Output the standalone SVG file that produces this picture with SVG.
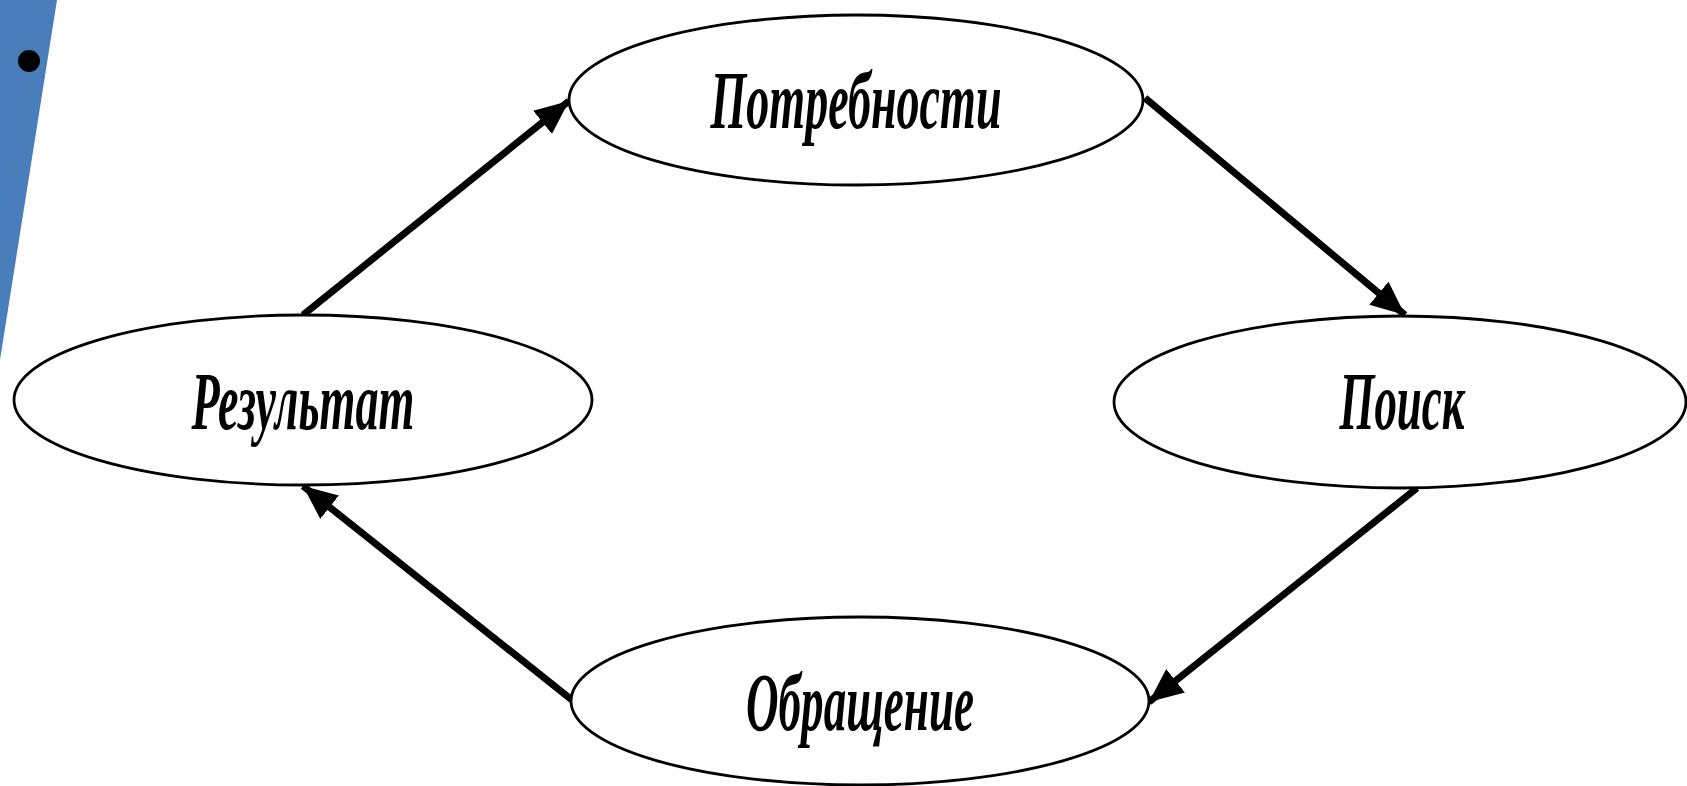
<svg xmlns="http://www.w3.org/2000/svg" width="1687" height="786" viewBox="0 0 1687 786">
  <style>
    .node ellipse { fill: #ffffff; stroke: #000000; stroke-width: 2.8; }
    .node text { font-family: "Liberation Serif", "Times New Roman", serif; font-weight: bold; font-style: italic; font-size: 82px; fill: #000000; text-anchor: middle; }
    .conn line { stroke: #000000; stroke-width: 7; marker-end: url(#arrow); }
  </style>
  <defs>
    <marker id="arrow" markerUnits="userSpaceOnUse" markerWidth="36" markerHeight="30" refX="34" refY="15" orient="auto">
      <path d="M0,0 L34,15 L0,30 Z" fill="#000000"/>
    </marker>
  </defs>
  <rect width="1687" height="786" fill="#ffffff"/>
  <polygon points="0,0 57,0 0,360" fill="#4a7ebb"/>
  <circle cx="29" cy="61" r="11" fill="#000000"/>

  <g id="connectors" class="conn">
    <line x1="303" y1="315" x2="569" y2="101"/>
    <line x1="1145" y1="98" x2="1405" y2="315"/>
    <line x1="1417" y1="488" x2="1149" y2="702"/>
    <line x1="572" y1="700" x2="303" y2="486"/>
  </g>

  <g id="node-potrebnosti" class="node">
    <ellipse cx="856" cy="100" rx="287" ry="85"/>
    <text x="856" y="128" textLength="291" lengthAdjust="spacingAndGlyphs">Потребности</text>
  </g>
  <g id="node-rezultat" class="node">
    <ellipse cx="303" cy="400" rx="289" ry="85"/>
    <text x="303" y="429" textLength="223" lengthAdjust="spacingAndGlyphs">Результат</text>
  </g>
  <g id="node-poisk" class="node">
    <ellipse cx="1400" cy="402" rx="286" ry="86"/>
    <text x="1402" y="429" textLength="125" lengthAdjust="spacingAndGlyphs">Поиск</text>
  </g>
  <g id="node-obrashchenie" class="node">
    <ellipse cx="860" cy="701" rx="289" ry="84"/>
    <text x="860" y="730" textLength="228" lengthAdjust="spacingAndGlyphs">Обращение</text>
  </g>
</svg>
